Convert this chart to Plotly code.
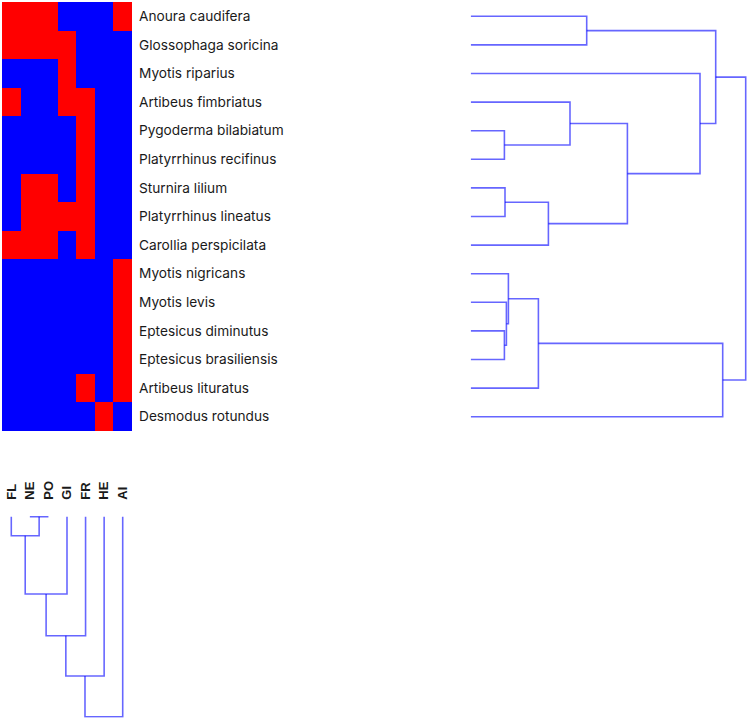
import plotly.graph_objects as go

# ---------------- data ----------------
species = [
    "Anoura caudifera", "Glossophaga soricina", "Myotis riparius",
    "Artibeus fimbriatus", "Pygoderma bilabiatum", "Platyrrhinus recifinus",
    "Sturnira lilium", "Platyrrhinus lineatus", "Carollia perspicilata",
    "Myotis nigricans", "Myotis levis", "Eptesicus diminutus",
    "Eptesicus brasiliensis", "Artibeus lituratus", "Desmodus rotundus",
]
guilds = ["FL", "NE", "PO", "GI", "FR", "HE", "AI"]

presence = [
    [1, 1, 1, 0, 0, 0, 1],
    [1, 1, 1, 1, 0, 0, 0],
    [0, 0, 0, 1, 0, 0, 0],
    [1, 0, 0, 1, 1, 0, 0],
    [0, 0, 0, 0, 1, 0, 0],
    [0, 0, 0, 0, 1, 0, 0],
    [0, 1, 1, 0, 1, 0, 0],
    [0, 1, 1, 1, 1, 0, 0],
    [1, 1, 1, 0, 1, 0, 0],
    [0, 0, 0, 0, 0, 0, 1],
    [0, 0, 0, 0, 0, 0, 1],
    [0, 0, 0, 0, 0, 0, 1],
    [0, 0, 0, 0, 0, 0, 1],
    [0, 0, 0, 0, 1, 0, 1],
    [0, 0, 0, 0, 0, 1, 0],
]

# linkage: (child_a, child_b, height); new clusters numbered after leaves
row_linkage = [
    (4, 5, 33.7), (6, 7, 34.3), (11, 12, 33.7), (10, 17, 35.7),
    (9, 18, 37.7), (16, 8, 77.7), (3, 15, 99.3), (0, 1, 116.0),
    (21, 20, 156.7), (19, 13, 67.7), (2, 23, 229.3), (22, 25, 245.0),
    (24, 14, 252.0), (26, 27, 275.0),
]
col_linkage = [
    (1, 2, 0.0), (0, 7, 19.0), (8, 3, 77.3), (9, 4, 119.0),
    (10, 5, 159.3), (11, 6, 200.0),
]

LINE = dict(color="rgba(0,0,255,0.6)", width=1.6)
W, H = 749, 720


def dendro_segments(linkage, n_leaves):
    pos = {i: float(i) for i in range(n_leaves)}
    hgt = {i: 0.0 for i in range(n_leaves)}
    segs = []
    for k, (a, b, h) in enumerate(linkage):
        node = n_leaves + k
        segs.append(([hgt[a], h, h, hgt[b]], [pos[a], pos[a], pos[b], pos[b]]))
        pos[node] = (pos[a] + pos[b]) / 2
        hgt[node] = h
    return segs


fig = go.Figure()

# heatmap
fig.add_trace(go.Heatmap(
    z=presence, x=list(range(len(guilds))), y=list(range(len(species))),
    colorscale=[[0, "#0000ff"], [1, "#ff0000"]], zmin=0, zmax=1,
    showscale=False, xaxis="x", yaxis="y", hoverinfo="skip",
))

# row dendrogram (right)
for hs, ps in dendro_segments(row_linkage, len(species)):
    fig.add_trace(go.Scatter(x=hs, y=ps, mode="lines", line=LINE,
                             xaxis="x3", yaxis="y3", showlegend=False,
                             hoverinfo="skip"))

# column dendrogram (bottom)
for hs, ps in dendro_segments(col_linkage, len(guilds)):
    fig.add_trace(go.Scatter(x=ps, y=hs, mode="lines", line=LINE,
                             xaxis="x2", yaxis="y2", showlegend=False,
                             hoverinfo="skip"))

def px_x(p):
    return p / W

def px_y(p):
    return (H - p) / H

hm_x = [px_x(2), px_x(132)]
hm_y = [px_y(431), px_y(2)]

fig.update_layout(
    width=W, height=H, margin=dict(l=0, r=0, t=0, b=0),
    paper_bgcolor="white", plot_bgcolor="white", showlegend=False,
    xaxis=dict(domain=hm_x, range=[-0.5, 6.5], showticklabels=False,
               showgrid=False, zeroline=False, ticks=""),
    yaxis=dict(domain=hm_y, range=[14.5, -0.5], side="right",
               tickvals=list(range(len(species))), ticktext=species,
               showgrid=False, zeroline=False, ticks="",
               ticklabelstandoff=6,
               tickfont=dict(family="Inter", size=13.7, color="#1a1a1a")),
    xaxis2=dict(domain=hm_x, range=[-0.5, 6.5], side="top", anchor="y2",
                tickvals=list(range(len(guilds))), ticktext=guilds,
                tickangle=-90, showgrid=False, zeroline=False, ticks="",
                ticklabelstandoff=15,
                tickfont=dict(family="Liberation Sans", size=13,
                              color="#1a1a1a", weight="bold")),
    yaxis2=dict(domain=[px_y(717.7), px_y(515.7)], range=[201, -1],
                anchor="x2", showticklabels=False, showgrid=False,
                zeroline=False, ticks=""),
    xaxis3=dict(domain=[px_x(470.7), px_x(747.7)], range=[0, 277],
                anchor="y3", showticklabels=False, showgrid=False,
                zeroline=False, ticks=""),
    yaxis3=dict(domain=hm_y, range=[14.5, -0.5], anchor="x3",
                showticklabels=False, showgrid=False, zeroline=False,
                ticks=""),
)

fig.write_html("out.html", config={"displayModeBar": False},
               post_script="document.body.style.margin='0';")
